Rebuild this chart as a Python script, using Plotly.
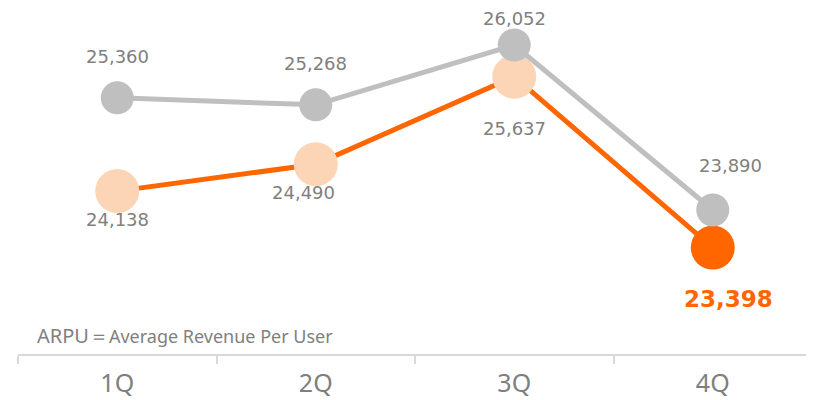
import plotly.graph_objects as go

categories = ["1Q", "2Q", "3Q", "4Q"]
gray_values = [25360, 25268, 26052, 23890]
orange_values = [24138, 24490, 25637, 23398]
gray_labels = ["25,360", "25,268", "26,052", "23,890"]
orange_labels = ["24,138", "24,490", "25,637", "23,398"]

GRAY = "#BFBFBF"
ORANGE = "#FF6600"
PEACH = "#FBD5B5"
TEXT = "#7F7F7F"

fig = go.Figure()
fig.add_trace(go.Scatter(
    x=categories, y=orange_values, mode="lines+markers",
    line=dict(color=ORANGE, width=5),
    marker=dict(size=44, color=[PEACH, PEACH, PEACH, ORANGE], line=dict(width=0)),
    hoverinfo="skip", showlegend=False,
))
fig.add_trace(go.Scatter(
    x=categories, y=gray_values, mode="lines+markers",
    line=dict(color=GRAY, width=5),
    marker=dict(size=33, color=GRAY, line=dict(width=0)),
    hoverinfo="skip", showlegend=False,
))

gray_off = [(0, 41), (0, 41), (0, 27), (18, 45)]
orange_off = [(0, -28), (-12, -28), (0, -52), (16, -51)]
for i, c in enumerate(categories):
    fig.add_annotation(x=c, y=gray_values[i], text=gray_labels[i], showarrow=False,
                       xshift=gray_off[i][0], yshift=gray_off[i][1],
                       font=dict(family="DejaVu Sans", size=18, color=TEXT))
for i, c in enumerate(categories):
    last = i == len(categories) - 1
    fig.add_annotation(x=c, y=orange_values[i],
                       text=("<b>%s</b>" % orange_labels[i]) if last else orange_labels[i],
                       showarrow=False,
                       xshift=orange_off[i][0], yshift=orange_off[i][1],
                       font=dict(family="DejaVu Sans", size=23 if last else 18,
                                 color=ORANGE if last else TEXT))

# plot area occupies 346 px in height (page y 8..354)
fig.add_annotation(xref="paper", yref="paper", x=(35 - 18) / 794, y=(354 - 335) / 346,
                   xanchor="left", yanchor="middle", showarrow=False,
                   text="ARPU＝<span style='font-size:18px'>Average Revenue Per User</span>",
                   font=dict(family="Noto Sans", size=20, color=TEXT))

fig.update_layout(
    width=806, height=392,
    margin=dict(l=10, r=2, t=0, b=46, autoexpand=False),
    paper_bgcolor="white", plot_bgcolor="white",
    xaxis=dict(type="category", tickson="boundaries", ticks="outside", ticklen=8,
               tickcolor="#D9D9D9", tickwidth=2, showline=True, linecolor="#D9D9D9",
               linewidth=2, showgrid=False, zeroline=False, range=[-0.5, 3.5],
               automargin=False, ticklabelstandoff=6,
               tickfont=dict(family="Noto Sans", size=25, color=TEXT)),
    yaxis=dict(range=[22004, 26537], visible=False, showgrid=False, zeroline=False,
               automargin=False),
)

fig.write_html("out.html")
